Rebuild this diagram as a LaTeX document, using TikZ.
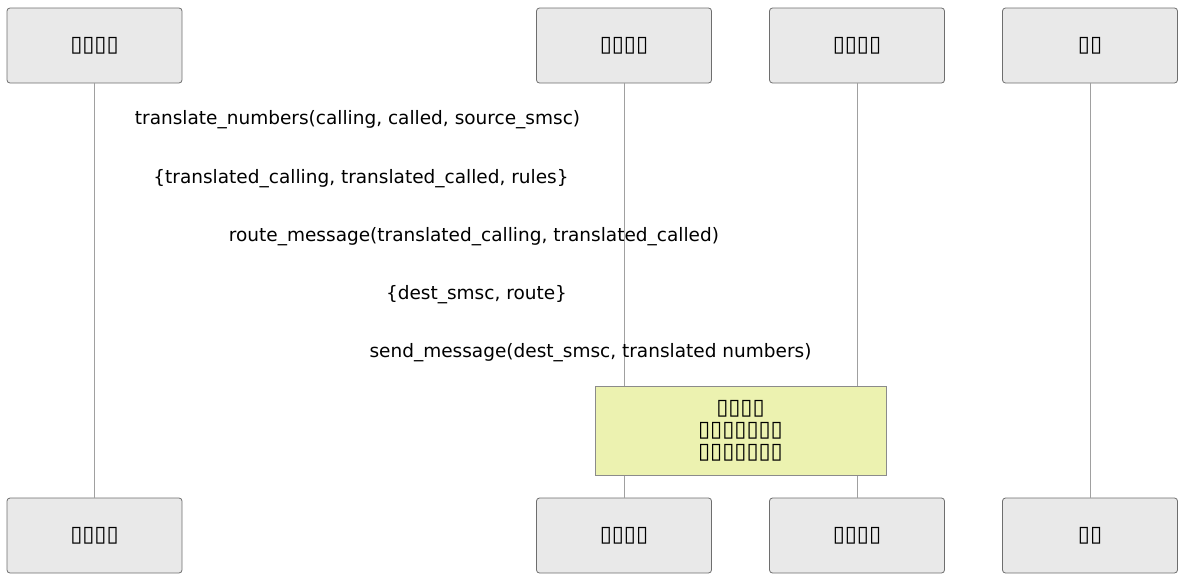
\documentclass[tikz,border=0pt]{standalone}
\usepackage{fontspec}
\setmainfont{DejaVu Sans}
\definecolor{boxfill}{RGB}{233,233,233}
\definecolor{boxline}{RGB}{110,110,110}
\definecolor{lifeline}{RGB}{160,160,160}
\definecolor{notefill}{RGB}{236,242,176}
\begin{document}
\begin{tikzpicture}[x=1pt,y=-1pt,
  part/.style={draw=boxline, fill=boxfill, rounded corners=3pt, line width=0.8pt,
    minimum width=175pt, minimum height=75pt, inner sep=0pt, font=\fontsize{22}{22}\selectfont},
  msg/.style={inner sep=0pt, font=\fontsize{18.5}{22}\selectfont},
  lline/.style={draw=lifeline, line width=0.8pt},
  notebox/.style={draw=boxline!80, fill=notefill, line width=0.8pt, minimum width=291pt,
    minimum height=89pt, inner sep=0pt, align=center, font=\fontsize{22}{22}\selectfont}]
\useasboundingbox (0,0) rectangle (1178,573);
% participants top
\node[part] (a1) at (94.5,45.5) {▯▯▯▯};
\node[part] (b1) at (624,45.5) {▯▯▯▯};
\node[part] (c1) at (857,45.5) {▯▯▯▯};
\node[part] (d1) at (1090,45.5) {▯▯};
% participants bottom
\node[part] (a2) at (94.5,535.5) {▯▯▯▯};
\node[part] (b2) at (624,535.5) {▯▯▯▯};
\node[part] (c2) at (857,535.5) {▯▯▯▯};
\node[part] (d2) at (1090,535.5) {▯▯};
% lifelines
\draw[lline] (a1.south) -- (a2.north);
\draw[lline] (b1.south) -- (b2.north);
\draw[lline] (c1.south) -- (c2.north);
\draw[lline] (d1.south) -- (d2.north);
% messages
\node[msg] (m1) at (357.5,120) {translate\_numbers(calling, called, source\_smsc)};
\node[msg] (m2) at (361,179) {\{translated\_calling, translated\_called, rules\}};
\node[msg] (m3) at (474,237) {route\_message(translated\_calling, translated\_called)};
\node[msg] (m4) at (476.5,295) {\{dest\_smsc, route\}};
\node[msg] (m5) at (590.5,353) {send\_message(dest\_smsc, translated numbers)};
% note
\node[notebox] (n) at (740.5,430.5) {▯▯▯▯\\▯▯▯▯▯▯▯\\▯▯▯▯▯▯▯};
\end{tikzpicture}
\end{document}
